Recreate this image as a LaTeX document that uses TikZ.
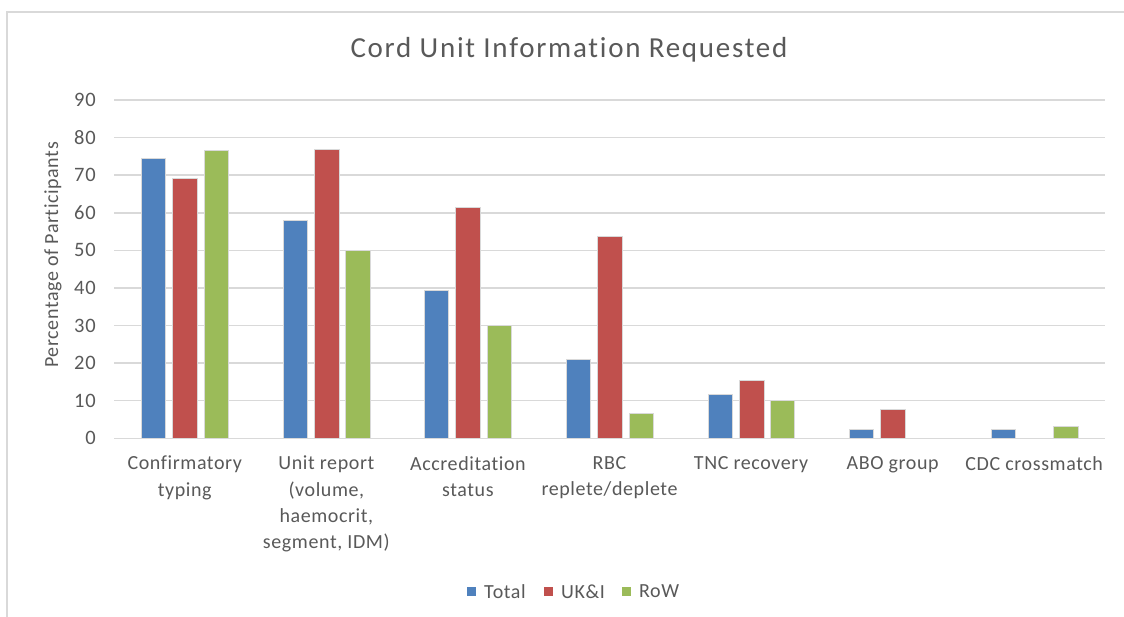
\documentclass[tikz,border=0pt]{standalone}
\usepackage{fontspec}
\setmainfont[Ligatures={NoCommon}]{Carlito}
\newfontfamily\widefont[LetterSpace=3,Ligatures={NoCommon}]{Carlito}
\newfontfamily\tickfont[LetterSpace=4,Ligatures={NoCommon}]{Carlito}
\newfontfamily\titlefont[LetterSpace=6,Ligatures={NoCommon}]{Carlito}
\definecolor{txt}{HTML}{595959}
\definecolor{gridc}{HTML}{D9D9D9}
\definecolor{cTotal}{HTML}{4F81BD}
\definecolor{cUK}{HTML}{C0504D}
\definecolor{cRoW}{HTML}{9BBB59}
\tikzset{
  gridline/.style={draw=gridc, line width=1.5pt},
  ticklab/.style={anchor=east, text=txt, font=\tickfont\fontsize{20.5}{23}\selectfont, inner sep=0pt},
  catlab/.style={anchor=north, text=txt, align=center, font=\widefont\fontsize{20}{26.3}\selectfont, inner sep=0pt},
  legtext/.style={anchor=west, text=txt, font=\widefont\fontsize{20}{23}\selectfont, inner sep=0pt},
  barbox/.style={draw=white!85!black, line width=0.6pt},
}
\begin{document}
\begin{tikzpicture}[x=1pt,y=-1pt]
\useasboundingbox (0,0) rectangle (1124,617);
\fill[white] (0,0) rectangle (1124,617);
\draw[gridline] (7,617) -- (7,12) -- (1124,12);
% title
\node[text=txt, font=\titlefont\fontsize{29}{32}\selectfont] (title) at (569,50) {Cord Unit Information Requested};
% grid and ticks
\foreach \i in {0,...,9} {
  \pgfmathsetmacro{\yy}{438.3-37.59*\i}
  \draw[gridline] (114,\yy) -- (1105,\yy);
  \pgfmathtruncatemacro{\lab}{10*\i}
  \node[ticklab] (tick\i) at (96,\yy) {\lab};
}
% axis title
\node[text=txt, rotate=90, font=\widefont\fontsize{20}{23}\selectfont] (ytitle) at (53,255) {Percentage of Participants};
% bars
\foreach \vt/\vu/\vr [count=\k] in {74.4/69.2/76.7, 58.1/76.9/50, 39.5/61.5/30, 20.9/53.8/6.7, 11.6/15.4/10, 2.3/7.7/0, 2.3/0/3.3} {
  \pgfmathsetmacro{\cx}{114+141.57*(\k-0.5)}
  \ifdim \vt pt>0pt \filldraw[barbox, fill=cTotal] (\cx-43.2,438.3) rectangle (\cx-19.2,438.3-3.759*\vt); \fi
  \ifdim \vu pt>0pt \filldraw[barbox, fill=cUK] (\cx-12.2,438.3) rectangle (\cx+12.8,438.3-3.759*\vu); \fi
  \ifdim \vr pt>0pt \filldraw[barbox, fill=cRoW] (\cx+19.4,438.3) rectangle (\cx+43.6,438.3-3.759*\vr); \fi
}
% category labels
\foreach \t [count=\k] in {{Confirmatory\\typing}, {Unit report\\(volume,\\haemocrit,\\segment, IDM)}, {Accreditation\\status}, {RBC\\replete/deplete}, {TNC recovery}, {ABO group}, {CDC crossmatch}} {
  \pgfmathsetmacro{\cx}{114+141.57*(\k-0.5)}
  \node[catlab] (cat\k) at (\cx,456) {\t};
}
% legend
\fill[cTotal] (467,587) rectangle (476,596);
\node[legtext] (legT) at (484,591.5) {Total};
\fill[cUK] (544,587) rectangle (553,596);
\node[legtext] (legU) at (561,591.5) {UK\&I};
\fill[cRoW] (622,587) rectangle (631,596);
\node[legtext] (legR) at (639,591.5) {RoW};
\end{tikzpicture}
\end{document}
